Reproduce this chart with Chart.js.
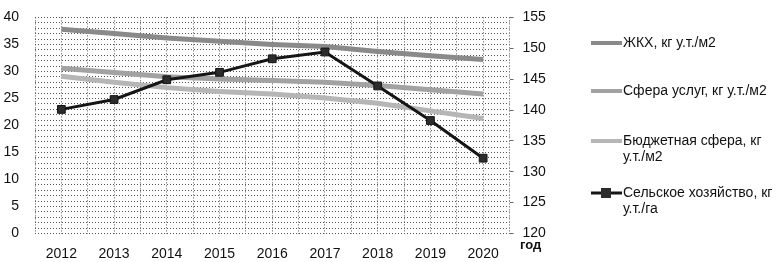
<!DOCTYPE html>
<html>
<head>
<meta charset="utf-8">
<script src="https://cdn.jsdelivr.net/npm/chart.js"></script>
<style>
  html, body { margin: 0; padding: 0; background: #fff; }
  #wrap { width: 778px; height: 262px; }
</style>
</head>
<body>
<div id="wrap"><canvas id="myChart" width="778" height="262"></canvas></div>
<script>
const years = ['2012', '2013', '2014', '2015', '2016', '2017', '2018', '2019', '2020'];

// left axis, кг у.т./м2
const zhkh = [37.8, 37.0, 36.2, 35.6, 35.0, 34.6, 33.7, 32.9, 32.2];
const uslugi = [30.6, 29.8, 29.0, 28.6, 28.3, 28.0, 27.4, 26.6, 25.8];
const byudzhet = [29.1, 28.0, 27.0, 26.3, 25.8, 25.1, 24.1, 22.7, 21.3];
// right axis, кг у.т./га
const selkhoz = [140.1, 141.7, 144.9, 146.1, 148.3, 149.4, 143.9, 138.3, 132.2];

const leftRange = [0, 40, 5];
const rightRange = [120, 155, 5];

const legendText = [
  ['ЖКХ, кг у.т./м2'],
  ['Сфера услуг, кг у.т./м2'],
  ['Бюджетная сфера, кг', 'у.т./м2'],
  ['Сельское хозяйство, кг', 'у.т./га']
];
const xTitle = 'год';

const font = "'Liberation Sans', Arial, sans-serif";
Chart.defaults.font.family = font;
Chart.defaults.color = '#111';

const dotted = { color: '#555', lineWidth: 1, tickLength: 0 };
const dottedBorder = { display: false, dash: [1, 2] };

// legend drawn by hand so long labels can wrap
const sideLegend = {
  id: 'sideLegend',
  afterDraw(chart) {
    const c = chart.ctx;
    const rows = [43, 91, 141, 193];
    c.save();
    c.font = '14px ' + font;
    c.textBaseline = 'middle';
    c.fillStyle = '#111';
    chart.data.datasets.forEach((ds, i) => {
      const y = rows[i];
      c.strokeStyle = ds.borderColor;
      c.lineWidth = i === 3 ? 3 : 4;
      c.beginPath();
      c.moveTo(591, y);
      c.lineTo(622, y);
      c.stroke();
      if (i === 3) {
        c.fillStyle = ds.pointBackgroundColor;
        c.fillRect(601, y - 5, 10, 10);
        c.fillStyle = '#111';
      }
      legendText[i].forEach((t, k) => c.fillText(t, 623, y + k * 16));
    });
    c.font = 'bold 13px ' + font;
    c.fillText(xTitle, 520, 245);
    c.restore();
  }
};

new Chart(document.getElementById('myChart'), {
  type: 'line',
  data: {
    labels: years,
    datasets: [
      { label: legendText[0].join(' '), data: zhkh, yAxisID: 'y', borderColor: '#8a8a8a', borderWidth: 5, pointRadius: 0 },
      { label: legendText[1].join(' '), data: uslugi, yAxisID: 'y', borderColor: '#a2a2a2', borderWidth: 5, pointRadius: 0 },
      { label: legendText[2].join(' '), data: byudzhet, yAxisID: 'y', borderColor: '#b6b6b6', borderWidth: 5, pointRadius: 0 },
      {
        label: legendText[3].join(' '), data: selkhoz, yAxisID: 'y1', order: -1,
        borderColor: '#151515', borderWidth: 3,
        pointStyle: 'rect', pointRadius: 5.5,
        pointBackgroundColor: '#2c2c2c', pointBorderColor: '#151515', pointBorderWidth: 1
      }
    ]
  },
  options: {
    responsive: false,
    animation: false,
    devicePixelRatio: 1,
    layout: { padding: { top: 16, left: 0, right: 0, bottom: 0 } },
    plugins: { legend: { display: false }, tooltip: { enabled: false } },
    scales: {
      x: {
        type: 'category',
        offset: true,
        grid: { display: false },
        border: { display: false },
        ticks: { font: { size: 14 }, padding: 4, maxRotation: 0 },
        afterFit: s => { s.height = 28.5; }
      },
      xg: {
        type: 'linear',
        position: 'bottom',
        min: -0.5, max: 8.5,
        ticks: { display: false, stepSize: 0.5 },
        grid: dotted,
        border: dottedBorder,
        afterFit: s => { s.height = 0; }
      },
      y: {
        position: 'left',
        min: leftRange[0], max: leftRange[1],
        ticks: { stepSize: leftRange[2], font: { size: 14 }, padding: 8 },
        grid: { display: false },
        border: { display: false },
        afterFit: s => { s.width = 35; }
      },
      yg: {
        type: 'linear',
        position: 'left',
        min: leftRange[0], max: leftRange[1],
        ticks: { display: false, stepSize: 1 },
        grid: dotted,
        border: dottedBorder,
        afterFit: s => { s.width = 0; }
      },
      y1: {
        position: 'right',
        min: rightRange[0], max: rightRange[1],
        ticks: { stepSize: rightRange[2], font: { size: 14 }, padding: 9 },
        grid: { drawOnChartArea: false, tickLength: 4, color: '#666' },
        border: { display: false },
        afterFit: s => { s.width = 268.5; }
      }
    }
  },
  plugins: [sideLegend]
});
</script>
</body>
</html>
